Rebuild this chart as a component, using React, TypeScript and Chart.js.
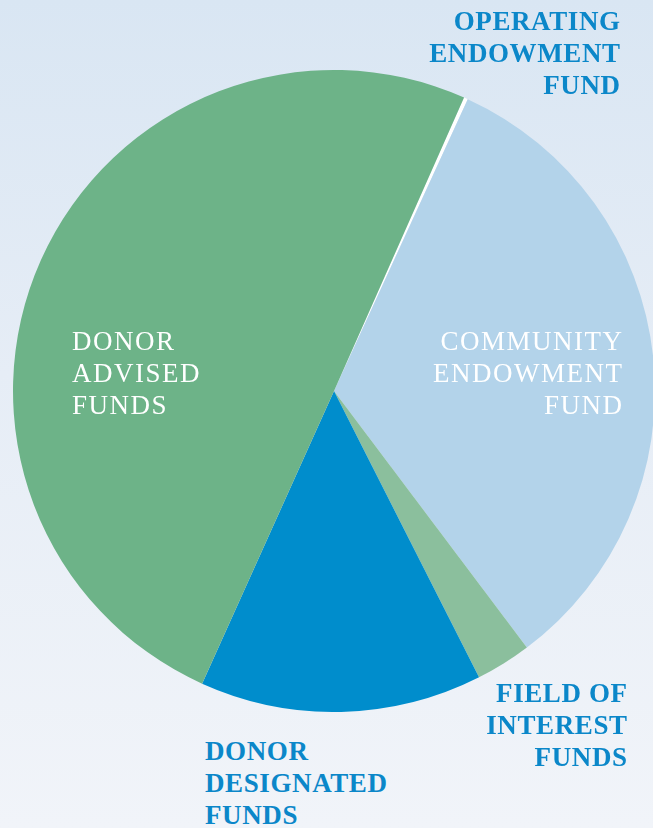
import React, { useEffect, useRef } from "react";
import { Chart, registerables } from "chart.js";

Chart.register(...registerables);

const categories = [
  "Operating Endowment Fund",
  "Community Endowment Fund",
  "Field of Interest Funds",
  "Donor Designated Funds",
  "Donor Advised Funds",
];
const shares = [0.2, 32.9, 2.8, 14.2, 49.9];
const sliceColors = ["#ffffff", "#b3d3ea", "#8bbf9d", "#008dcc", "#6db388"];

const FONT = '"Liberation Serif", "Times New Roman", serif';

type Lbl = {
  lines: string[];
  x: number;
  top: number;
  align: "left" | "right";
  color: string;
  bold: boolean;
};

const labels: Lbl[] = [
  { lines: ["OPERATING", "ENDOWMENT", "FUND"], x: 620, top: 5, align: "right", color: "#0b87c9", bold: true },
  { lines: ["COMMUNITY", "ENDOWMENT", "FUND"], x: 622, top: 325, align: "right", color: "#ffffff", bold: false },
  { lines: ["DONOR", "ADVISED", "FUNDS"], x: 72, top: 325, align: "left", color: "#ffffff", bold: false },
  { lines: ["FIELD OF", "INTEREST", "FUNDS"], x: 627, top: 677, align: "right", color: "#0b87c9", bold: true },
  { lines: ["DONOR", "DESIGNATED", "FUNDS"], x: 205, top: 735, align: "left", color: "#0b87c9", bold: true },
];

export default function App() {
  const ref = useRef<HTMLCanvasElement | null>(null);

  useEffect(() => {
    if (!ref.current) return;
    const chart = new Chart(ref.current, {
      type: "pie",
      data: {
        labels: categories,
        datasets: [
          {
            data: shares,
            backgroundColor: sliceColors,
            borderWidth: 0,
          },
        ],
      },
      options: {
        animation: false,
        responsive: true,
        maintainAspectRatio: false,
        rotation: 23.9,
        layout: { padding: 0 },
        plugins: {
          legend: { display: false },
          tooltip: { enabled: false },
        },
      },
    });
    return () => chart.destroy();
  }, []);

  return (
    <div
      style={{
        position: "absolute",
        left: 0,
        top: 0,
        width: 653,
        height: 828,
        overflow: "hidden",
        background: "linear-gradient(180deg, #d9e6f3 0%, #e6edf6 45%, #f1f4f9 100%)",
      }}
    >
      <div style={{ position: "absolute", left: 13, top: 70, width: 642, height: 642 }}>
        <canvas ref={ref} />
      </div>
      {labels.map((l, i) => {
        const ls = l.bold ? 0.6 : 1.5;
        return (
          <div
            key={i}
            style={{
              position: "absolute",
              top: l.top,
              left: l.align === "left" ? l.x : undefined,
              right: l.align === "right" ? 653 - l.x - ls : undefined,
              textAlign: l.align,
              color: l.color,
              fontFamily: FONT,
              fontWeight: l.bold ? 700 : 400,
              fontSize: 27,
              letterSpacing: ls,
              lineHeight: "32px",
              whiteSpace: "nowrap",
            }}
          >
            {l.lines.map((s, j) => (
              <div key={j}>{s}</div>
            ))}
          </div>
        );
      })}
    </div>
  );
}
